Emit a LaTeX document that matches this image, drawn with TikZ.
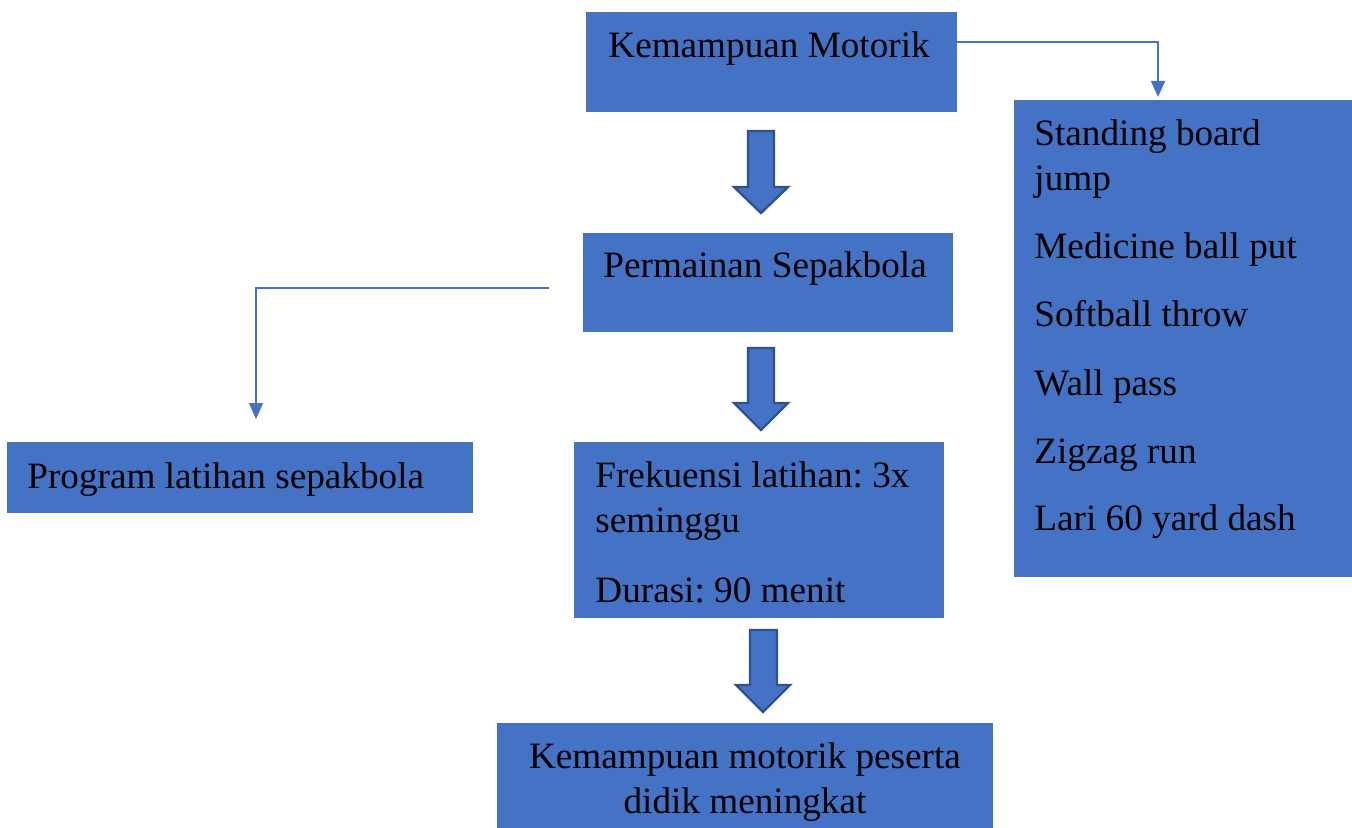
\documentclass[tikz,border=0pt]{standalone}
\usepackage{fontspec}
\setmainfont{Liberation Serif}
\usetikzlibrary{arrows.meta}
\frenchspacing
\definecolor{boxblue}{HTML}{4472C4}
\definecolor{edgeblue}{HTML}{2F528F}
\tikzset{
  boxnode/.style={rectangle, fill=boxblue, draw=none, inner sep=0pt, outer sep=0pt, anchor=north west},
  txt/.style={inner sep=0pt, anchor=base west, font=\fontsize{18.6pt}{22pt}\selectfont\frenchspacing, text=black},
  ctxt/.style={inner sep=0pt, anchor=base, font=\fontsize{18.6pt}{22pt}\selectfont\frenchspacing, text=black},
  blockarrow/.style={fill=boxblue, draw=edgeblue, line width=1.2pt, line join=miter},
  conn/.style={draw=boxblue, line width=0.75pt, -{Triangle[width=7pt,length=8pt]}}
}
\begin{document}
\begin{tikzpicture}[x=0.5pt,y=-0.5pt]
\useasboundingbox (0,0) rectangle (1352,828);
% boxes
\node[boxnode, minimum width=185.5pt, minimum height=50pt] (km) at (586,12) {};
\node[boxnode, minimum width=169pt, minimum height=238.5pt] (tests) at (1014,100) {};
\node[boxnode, minimum width=185pt, minimum height=49.5pt] (ps) at (583,233) {};
\node[boxnode, minimum width=233pt, minimum height=35.5pt] (prog) at (7,442) {};
\node[boxnode, minimum width=185pt, minimum height=88pt] (frek) at (574,442) {};
\node[boxnode, minimum width=248pt, minimum height=52.5pt] (hasil) at (497,723) {};
% texts
\node[txt] (t1) at (608,58) {Kemampuan Motorik};
\node[txt] (t2) at (1034,146) {Standing board};
\node[txt] (t3) at (1034,191) {jump};
\node[txt] (t4) at (1034,259) {Medicine ball put};
\node[txt] (t5) at (1034,327) {Softball throw};
\node[txt] (t6) at (1034,395) {Wall pass};
\node[txt] (t7) at (1034,463) {Zigzag run};
\node[txt] (t8) at (1034,530) {Lari 60 yard dash};
\node[txt] (t9) at (603,278) {Permainan Sepakbola};
\node[txt] (t10) at (27,488) {Program latihan sepakbola};
\node[txt] (t11) at (595,487) {Frekuensi latihan: 3x};
\node[txt] (t12) at (595,532) {seminggu};
\node[txt] (t13) at (595,602) {Durasi: 90 menit};
\node[ctxt] (t14) at (745,768) {Kemampuan motorik peserta};
\node[ctxt] (t15) at (745,813) {didik meningkat};
% block arrows
\draw[blockarrow] (748,131) -- (774,131) -- (774,187) -- (788,187) -- (761,213) -- (734,187) -- (748,187) -- cycle;
\draw[blockarrow] (748,348) -- (774,348) -- (774,403) -- (788,403) -- (761,430) -- (734,403) -- (748,403) -- cycle;
\draw[blockarrow] (750,630) -- (777,630) -- (777,685) -- (790,685) -- (763,712) -- (736,685) -- (750,685) -- cycle;
% connectors
\coordinate (c1) at (957,42);
\coordinate (c2) at (1158,97);
\coordinate (c3) at (549,288);
\coordinate (c4) at (256,419);
\draw[conn] (c1) -| (c2);
\draw[conn] (c3) -| (c4);
\end{tikzpicture}
\end{document}
